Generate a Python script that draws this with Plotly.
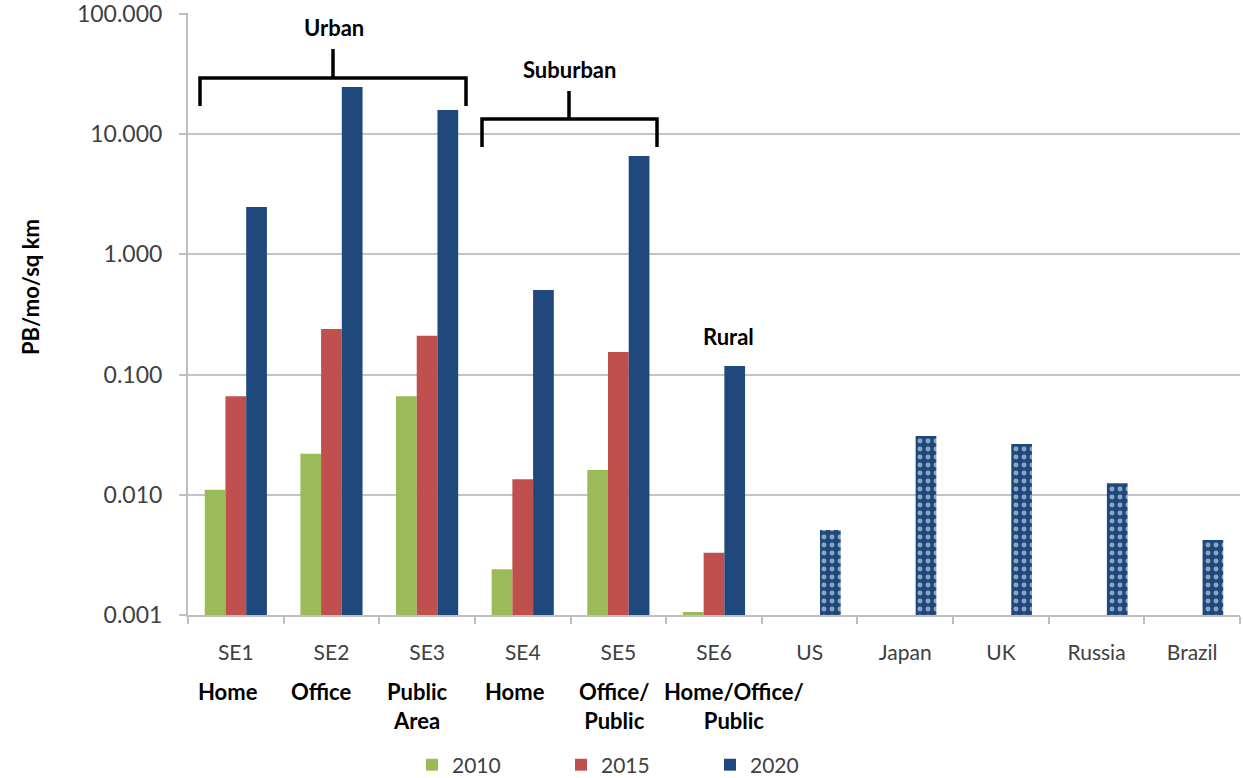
import plotly.graph_objects as go

categories = ["SE1", "SE2", "SE3", "SE4", "SE5", "SE6", "US", "Japan", "UK", "Russia", "Brazil"]
sub_labels = ["Home", "Office", "Public<br>Area", "Home", "Office/<br>Public", "Home/Office/<br>Public"]
v2010 = [0.011, 0.022, 0.066, 0.0024, 0.0161, 0.00106, None, None, None, None, None]
v2015 = [0.066, 0.24, 0.21, 0.0135, 0.154, 0.0033, None, None, None, None, None]
v2020 = [2.48, 24.7, 15.9, 0.506, 6.6, 0.118, 0.0051, 0.0308, 0.0265, 0.0125, 0.0042]
tick_vals = [0.001, 0.01, 0.1, 1, 10, 100]
tick_text = ["0.001", "0.010", "0.100", "1.000", "10.000", "100.000"]

GREEN, RED, BLUE = "#9BBB59", "#C0504D", "#1F497D"
FONT = "Lato"
W, H = 1243, 778
PL, PR, PT, PB = 188, 1240, 13, 615
DECADE_PX = 120.2
R_TOP = -3 + (PB - PT) / DECADE_PX


def px(x):
    return (x - PL) / (PR - PL)


def py(y):
    return (PB - y) / (PB - PT)


fig = go.Figure()
fig.add_bar(name="2010", x=categories, y=v2010, marker=dict(color=GREEN, line=dict(width=0)))
fig.add_bar(name="2015", x=categories, y=v2015, marker=dict(color=RED, line=dict(width=0)))
n_se = len(sub_labels)
fig.add_bar(
    name="2020", x=categories, y=v2020,
    marker=dict(
        color=BLUE, line=dict(width=0),
        pattern=dict(
            shape=[""] * n_se + ["."] * (len(categories) - n_se),
            fillmode="overlay", fgcolor="white", bgcolor=BLUE,
            size=8, solidity=0.3,
        ),
    ),
)

shapes = []
# white box hiding the top gridline behind the "Urban" label
shapes.append(dict(type="rect", xref="paper", yref="paper", x0=px(209), x1=px(458),
                   y0=py(30), y1=py(-5), fillcolor="white", line=dict(width=0), layer="above"))


def bracket(x0, x1, yh, yend, xc, ytop):
    path = (f"M {px(x0)},{py(yend)} L {px(x0)},{py(yh)} L {px(x1)},{py(yh)} L {px(x1)},{py(yend)} "
            f"M {px(xc)},{py(yh)} L {px(xc)},{py(ytop)}")
    return dict(type="path", xref="paper", yref="paper", path=path,
                line=dict(color="black", width=3.5), layer="above")


shapes.append(bracket(200, 466, 78, 106, 333, 49))
shapes.append(bracket(482, 657, 119, 147, 569, 91))

annotations = []
for txt, (x, y) in {"Urban": (334, 27), "Suburban": (569, 69), "Rural": (728, 336)}.items():
    annotations.append(dict(text=f"<b>{txt}</b>", xref="paper", yref="paper", x=px(x), y=py(y),
                            showarrow=False, font=dict(family=FONT, size=22, color="black"),
                            xanchor="center", yanchor="middle"))

label_x = [228, 321, 417, 515, 614, 734]
for lab, x in zip(sub_labels, label_x):
    annotations.append(dict(text=f"<b>{lab}</b>", xref="paper", yref="paper", x=px(x), y=py(676),
                            showarrow=False, font=dict(family=FONT, size=22, color="black"),
                            xanchor="center", yanchor="top", align="center"))

annotations.append(dict(text="<b>PB/mo/sq km</b>", xref="paper", yref="paper", x=px(30), y=py(287),
                        textangle=-90, showarrow=False,
                        font=dict(family=FONT, size=22, color="black"),
                        xanchor="center", yanchor="middle"))

fig.update_layout(
    width=W, height=H,
    margin=dict(l=PL, r=W - PR, t=PT, b=H - PB, pad=0, autoexpand=False),
    paper_bgcolor="white", plot_bgcolor="white",
    barmode="group", bargap=0.35, bargroupgap=0,
    font=dict(family=FONT, size=21, color="#404040"),
    showlegend=True,
    legend=dict(orientation="h", x=px(412), xanchor="left", y=py(765), yanchor="middle",
                entrywidth=104, entrywidthmode="pixels",
                font=dict(family=FONT, size=21, color="#404040"), itemclick=False),
    shapes=shapes, annotations=annotations,
)
fig.update_xaxes(
    type="category", showgrid=False, showline=True, linecolor="#bfbfbf", linewidth=2,
    ticks="outside", ticklen=7, tickwidth=2, tickcolor="#bfbfbf", tickson="boundaries",
    tickfont=dict(family=FONT, size=21, color="#404040"), ticklabelstandoff=18,
    range=[-0.5, len(categories) - 0.5], automargin=False,
)
fig.update_yaxes(
    type="log", range=[-3, R_TOP], tickvals=tick_vals, ticktext=tick_text,
    showgrid=True, gridcolor="#c4c4c4", gridwidth=2,
    showline=True, linecolor="#bfbfbf", linewidth=2,
    ticks="outside", ticklen=7, tickwidth=2, tickcolor="#bfbfbf",
    tickfont=dict(family=FONT, size=23, color="#404040"), ticklabelstandoff=12,
    ticklabeloverflow="allow", zeroline=False, automargin=False,
)

fig.write_html("out.html", config={"displayModeBar": False},
               post_script="document.body.style.margin='0';")
